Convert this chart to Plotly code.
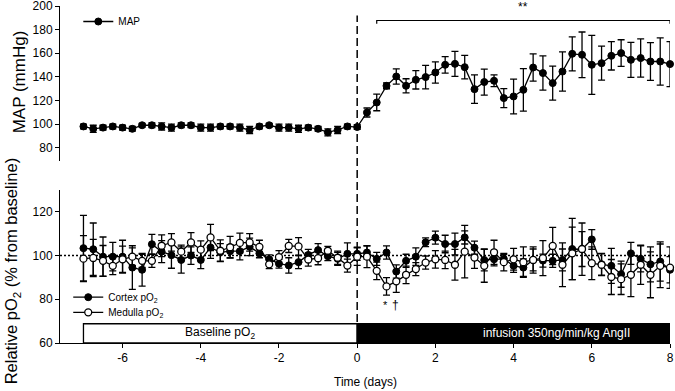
import numpy as np
import plotly.graph_objects as go

# ---- data ----
days = [round(-7 + 0.25 * i, 2) for i in range(61)]

map_mean = [98, 96, 97, 98, 97, 96, 99, 99, 98, 97, 99, 99, 97, 97, 98, 98, 97, 95, 98, 99,
            97, 97, 96, 97, 96, 93, 95, 98, 97.5,
            109.8, 118.3, 132.4, 140.3, 132.4, 137.5, 139.8, 143.7, 150.2, 151, 148.2, 129.6,
            135.6, 136.7, 122, 123.4, 129, 147.9, 143.2, 134.7, 144.5, 159.5, 158.7, 150.2,
            151.6, 157.8, 160.1, 154.4, 155.9, 153, 153, 150.8]
map_err = [2, 3, 2, 2, 2, 2, 1.5, 2, 3, 3, 2, 2, 3, 3, 2, 2, 3, 3, 2, 1.5, 3, 3, 3, 2, 2, 3, 3, 2, 2,
           3.8, 7, 2.5, 6.5, 6, 7.8, 10, 9, 7, 10.6, 10, 12, 11, 5, 8, 14.7, 18, 11.6, 14.5, 14.4,
           16.6, 14.4, 19.3, 25, 14.4, 12, 11.3, 14.8, 16.2, 16, 20, 19]

cortex_mean = [103.4, 102.9, 99.5, 99.5, 99.5, 94.5, 93.5, 105.2, 101.8, 100.2, 98, 100, 98, 103.7,
               101.5, 102, 102, 104, 101, 98.3, 96.3, 95.5, 97, 100.3, 102.5, 99.7, 98.5, 100.8, 100.8,
               101.4, 98.5, 101.4, 92.7, 97.6, 99.5, 106.1, 108.2, 105.3, 105.3, 108.3, 103.6, 98,
               98.3, 98.5, 95.3, 94.5, 98, 97.7, 97.6, 98, 103, 102.9, 107.4, 96, 95.3, 91.5, 101,
               98.5, 96, 97.3, 93.5]
cortex_err = [15, 12, 9, 6.5, 7.5, 10, 7.5, 4.5, 5, 6, 6, 4, 4, 5, 4, 3, 4, 4, 2, 2, 2, 3.5, 3, 2.5,
              3, 2, 3, 5, 3,
              3, 3, 3, 3, 3, 4, 2, 3, 4, 5, 3, 3, 5, 3, 2, 3, 4, 5, 3, 3, 5, 14, 12, 4.5, 5, 8, 6,
              5, 6, 8, 9, 6]

medulla_mean = [98.6, 98.9, 97.6, 95.3, 98.3, 99.5, 97.6, 97.6, 104.5, 106, 101.8, 106, 102.7, 108.3,
                102.2, 103.8, 105.8, 106, 104, 96, 99.3, 104.4, 104.2, 98.2, 98.8, 102.2, 99, 95.4,
                99.5,
                99.5, 93, 85.9, 88.2, 91.2, 93.8, 96.8, 98.3, 98, 95.8, 101.8, 99.1, 95.3, 101.5, 97,
                98.3, 97, 98, 98.8, 104.4, 95.8, 101, 103, 96.5, 95.8, 90.2, 89.2, 91.2, 95.8, 91.2,
                95.3, 94.5]
medulla_err = [10.5, 8.5, 7, 4, 6, 4, 3, 3, 5, 4, 3, 4.5, 4, 6, 5, 5, 4.5, 4, 3, 2, 3, 3, 4, 3, 3, 2,
               3, 3, 4,
               5, 4, 4, 5, 4, 3, 3, 4, 4, 7, 12, 5, 7.5, 5.5, 4, 5, 7, 6, 8, 8.5, 10, 12, 8, 7.5, 5,
               8, 7, 10, 9, 10.5, 10, 9.5]

x_ticks = [-6, -4, -2, 0, 2, 4, 6, 8]
x_ticklabels = ["-6", "-4", "-2", "0", "2", "4", "6", "8"]
map_ticks = [80, 100, 120, 140, 160, 180, 200]
po2_ticks = [60, 80, 100, 120]

FONT = "Arial, 'Liberation Sans', sans-serif"

fig = go.Figure()

err_style = dict(type="data", color="black", thickness=1.3, width=3.5, visible=True)

fig.add_trace(go.Scatter(
    x=days, y=map_mean, mode="lines+markers", name="MAP",
    line=dict(color="black", width=1.3),
    marker=dict(symbol="circle", size=7, color="black", line=dict(color="black", width=1)),
    error_y=dict(array=map_err, **err_style),
    xaxis="x2", yaxis="y2", legend="legend", cliponaxis=False))

fig.add_trace(go.Scatter(
    x=days, y=cortex_mean, mode="lines+markers", name="Cortex pO<sub>2</sub>",
    line=dict(color="black", width=1.3),
    marker=dict(symbol="circle", size=7, color="black", line=dict(color="black", width=1)),
    error_y=dict(array=cortex_err, **err_style),
    xaxis="x", yaxis="y", legend="legend2", cliponaxis=False))

fig.add_trace(go.Scatter(
    x=days, y=medulla_mean, mode="lines+markers", name="Medulla pO<sub>2</sub>",
    line=dict(color="black", width=1.3),
    marker=dict(symbol="circle", size=7, color="white", line=dict(color="black", width=1.3)),
    error_y=dict(array=medulla_err, **err_style),
    xaxis="x", yaxis="y", legend="legend3", cliponaxis=False))

axis_common = dict(showgrid=False, zeroline=False, showline=True, linecolor="black", linewidth=1,
                   ticks="outside", ticklen=4, tickcolor="black", ticklabeloverflow="allow",
                   tickfont=dict(family=FONT, size=12, color="black"))

legend_common = dict(xanchor="left", yanchor="top", bgcolor="rgba(0,0,0,0)",
                     font=dict(family=FONT, size=10, color="black"), itemwidth=30, borderwidth=0)

fig.update_layout(
    width=675, height=391,
    margin=dict(l=60, r=5, t=6, b=48, autoexpand=False),
    paper_bgcolor="white", plot_bgcolor="white",
    font=dict(family=FONT, color="black"),
    xaxis=dict(range=[-7.6, 8], tickvals=x_ticks, ticktext=x_ticklabels, anchor="y", domain=[0, 1],
               **axis_common),
    yaxis=dict(range=[60, 130], tickvals=po2_ticks, domain=[0, 0.454], anchor="x", **axis_common),
    xaxis2=dict(range=[-7.6, 8], matches="x", anchor="y2", visible=False),
    yaxis2=dict(range=[69, 200], tickvals=map_ticks, domain=[0.541, 1], anchor="x2", **axis_common),
    legend=dict(x=0.03, y=0.997, **legend_common),
    legend2=dict(x=0.0135, y=0.179, **legend_common),
    legend3=dict(x=0.0135, y=0.134, **legend_common),
    showlegend=True,
)

shapes = []
# dotted baseline line at 100
shapes.append(dict(type="line", xref="paper", x0=0, x1=1, yref="y", y0=100, y1=100,
                   line=dict(color="black", width=1.5, dash="2px,2px"), layer="below"))
# vertical dashed line at day 0
shapes.append(dict(type="line", xref="x", x0=0, x1=0, yref="paper", y0=0.062, y1=0.972,
                   line=dict(color="black", width=1.5, dash="8px,4px"), layer="below"))
# bars marking periods
shapes.append(dict(type="rect", xref="x", x0=-7, x1=0, yref="y", y0=60, y1=68.8,
                   fillcolor="white", line=dict(color="black", width=1.3), layer="above"))
shapes.append(dict(type="rect", xref="x", x0=0, x1=8, yref="y", y0=60, y1=68.8,
                   fillcolor="black", line=dict(color="black", width=1.3), layer="above"))
# significance bracket
shapes.append(dict(type="path", xref="x2", yref="y2",
                   path="M 0.5,185 L 0.5,187.7 L 8,187.7 L 8,185",
                   line=dict(color="black", width=1.2)))
fig.update_layout(shapes=shapes)

annotations = [
    dict(text="Baseline pO<sub>2</sub>", x=-3.5, y=64.4, xref="x", yref="y", showarrow=False,
         xanchor="center", yanchor="middle", font=dict(family=FONT, size=12, color="black")),
    dict(text="infusion 350ng/min/kg AngII", x=5.1, y=64.4, xref="x", yref="y", showarrow=False,
         xanchor="center", yanchor="middle", font=dict(family=FONT, size=12, color="white")),
    dict(text="**", x=4.25, y=199, xref="x2", yref="y2", showarrow=False,
         xanchor="center", yanchor="middle", font=dict(family=FONT, size=12, color="black")),
    dict(text="*", x=0.72, y=77.5, xref="x", yref="y", showarrow=False,
         xanchor="center", yanchor="middle", font=dict(family=FONT, size=11, color="black")),
    dict(text="†", x=0.98, y=77.5, xref="x", yref="y", showarrow=False,
         xanchor="center", yanchor="middle", font=dict(family=FONT, size=12, color="black")),
    dict(text="MAP (mmHg)", x=-0.067, y=0.774, xref="paper", yref="paper", textangle=-90,
         xanchor="center", yanchor="middle", showarrow=False,
         font=dict(family=FONT, size=17, color="black")),
    dict(text="Relative pO<sub>2</sub> (% from baseline)", x=-0.079, y=0.215, xref="paper",
         yref="paper", textangle=-90, xanchor="center", yanchor="middle", showarrow=False,
         font=dict(family=FONT, size=16.5, color="black")),
    dict(text="Time (days)", x=0.501, y=-0.116, xref="paper", yref="paper", showarrow=False,
         xanchor="center", yanchor="middle", font=dict(family=FONT, size=12, color="black")),
]
fig.update_layout(annotations=annotations)

fig.write_html("out.html", config={"displayModeBar": False},
               post_script="document.body.style.margin='0';document.body.style.padding='0';")
